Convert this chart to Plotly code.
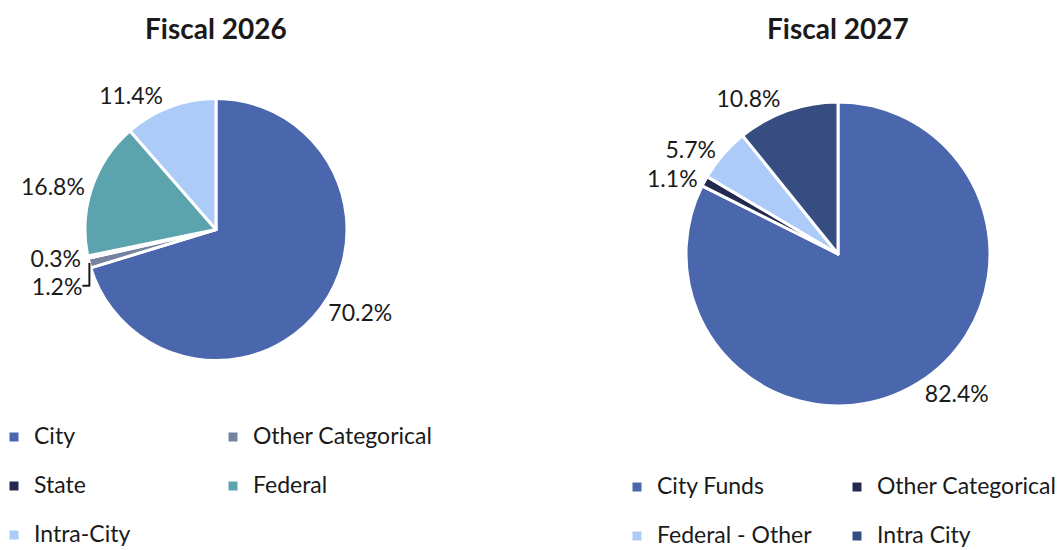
import plotly.graph_objects as go

# Data
labels_2026 = ["City", "Other Categorical", "State", "Federal", "Intra-City"]
values_2026 = [70.2, 1.2, 0.3, 16.8, 11.4]
colors_2026 = ["#4A66AC", "#7583A0", "#232A52", "#5BA3AD", "#ADCBF9"]

labels_2027 = ["City Funds", "Other Categorical", "Federal - Other", "Intra City"]
values_2027 = [82.4, 1.1, 5.7, 10.8]
colors_2027 = ["#4A66AC", "#232A52", "#ADCBF9", "#374C80"]

FONT = "Lato"
W, H = 1063, 550
OFF = 8          # page body margin offset of the figure
ML, MR = 60, 70
PW = W - ML - MR  # plot-area width in px
LEG_TEXT = 23


def px_x(p):
    return (p - OFF - ML) / PW


def px_y(p):
    return 1 - (p - OFF) / H


def leg_name(s, pad):
    # distinct suffix per chart so equal names in both pies stay separate entries
    return f"<span style='font-size:{LEG_TEXT}px'>{s}</span><br>" + " " * pad


fig = go.Figure()

fig.add_trace(go.Pie(
    labels=[leg_name(l, 1) for l in labels_2026],
    values=values_2026,
    text=[f"{v:.1f}%" for v in values_2026],
    textinfo="text",
    textposition="outside",
    sort=False,
    direction="clockwise",
    rotation=0,
    marker=dict(colors=colors_2026, line=dict(color="white", width=3)),
    outsidetextfont=dict(family=FONT, size=23, color="#1a1a1a"),
    domain=dict(x=[px_x(85), px_x(347)], y=[px_y(361), px_y(98)]),
    legend="legend",
    hovertext=labels_2026,
    hoverinfo="text",
))

fig.add_trace(go.Pie(
    labels=[leg_name(l, 2) for l in labels_2027],
    values=values_2027,
    text=[f"{v:.1f}%" for v in values_2027],
    textinfo="text",
    textposition="outside",
    sort=False,
    direction="clockwise",
    rotation=0,
    marker=dict(colors=colors_2027, line=dict(color="white", width=3)),
    outsidetextfont=dict(family=FONT, size=23, color="#1a1a1a"),
    domain=dict(x=[px_x(686), px_x(990)], y=[px_y(406), px_y(102)]),
    legend="legend2",
    hovertext=labels_2027,
    hoverinfo="text",
))

legend_common = dict(
    orientation="h",
    font=dict(family=FONT, size=17.7, color="#1a1a1a"),
    entrywidthmode="pixels",
    itemwidth=30,
    bgcolor="rgba(0,0,0,0)",
    valign="top",
    yanchor="top",
)

fig.update_layout(
    width=W,
    height=H,
    margin=dict(l=ML, r=MR, t=0, b=0, autoexpand=False),
    paper_bgcolor="white",
    plot_bgcolor="white",
    font=dict(family=FONT, color="#1a1a1a"),
    legend=dict(**legend_common, x=px_x(-6), xanchor="left", y=px_y(419), entrywidth=174),
    legend2=dict(**legend_common, x=px_x(1057), xanchor="right", y=px_y(469), entrywidth=175),
    annotations=[
        dict(text="<b>Fiscal 2026</b>", x=px_x(216), y=px_y(9), xref="paper", yref="paper",
             showarrow=False, font=dict(family=FONT, size=28, color="#1a1a1a"),
             xanchor="center", yanchor="top"),
        dict(text="<b>Fiscal 2027</b>", x=px_x(838), y=px_y(9), xref="paper", yref="paper",
             showarrow=False, font=dict(family=FONT, size=28, color="#1a1a1a"),
             xanchor="center", yanchor="top"),
    ],
)

fig.write_html("out.html")
